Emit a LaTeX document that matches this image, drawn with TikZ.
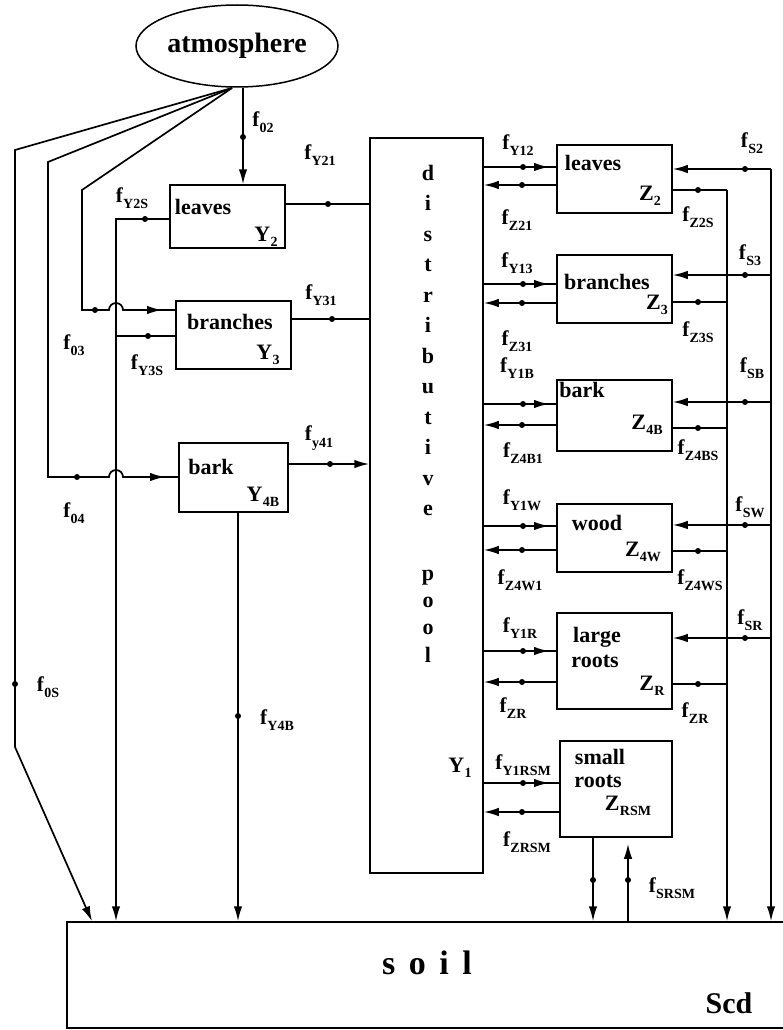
\documentclass[tikz,border=0pt]{standalone}
\usepackage{fontspec}
\setmainfont{Liberation Serif}
\usetikzlibrary{arrows.meta,shapes.geometric,calc}
\newcommand\lf[2]{#1\kern0.3pt\raisebox{-0.3em}{\fontsize{14}{14}\selectfont #2}}
\newcommand\lb[2]{#1\kern0.3pt\raisebox{-0.25em}{\fontsize{14}{14}\selectfont #2}}
\begin{document}
\begin{tikzpicture}[x=1pt,y=-1pt,
  ln/.style={line width=1.7pt},
  arr/.style={line width=1.7pt,-{Latex[length=15pt,width=8.5pt]}},
  box/.style={draw,line width=1.5pt,inner sep=0pt},
  lbl/.style={font=\fontsize{21}{21}\selectfont\bfseries,inner sep=0pt},
  txt/.style={font=\fontsize{22}{22}\selectfont\bfseries,inner sep=0pt},
  pl/.style={font=\fontsize{22}{22}\selectfont\bfseries,inner sep=0pt,anchor=base}]
\path[use as bounding box] (0,0) rectangle (782,1030);
% nodes
\node[ellipse,draw,line width=1.5pt,minimum width=202pt,minimum height=82pt,inner sep=0pt,
      font=\fontsize{28}{28}\selectfont\bfseries] (atm) at (237,46) {atmosphere};
\node[box,minimum width=115pt,minimum height=63pt] (Y2) at (227.5,216.5) {};
\node[box,minimum width=115pt,minimum height=68pt] (Y3) at (233.5,335) {};
\node[box,minimum width=109pt,minimum height=69pt] (Y4) at (233.5,477.5) {};
\node[box,minimum width=113pt,minimum height=735pt] (pool) at (426.5,505.5) {};
\node[box,minimum width=115pt,minimum height=68pt] (Z2) at (614.5,179) {};
\node[box,minimum width=115pt,minimum height=68pt] (Z3) at (614.5,289) {};
\node[box,minimum width=115pt,minimum height=71pt] (Z4B) at (614.5,415.5) {};
\node[box,minimum width=115pt,minimum height=68pt] (Z4W) at (614.5,538) {};
\node[box,minimum width=115pt,minimum height=96pt] (ZR) at (614.5,661) {};
\node[box,minimum width=112pt,minimum height=96pt] (ZRSM) at (616,789) {};
\node[box,minimum width=725pt,minimum height=106pt] (soil) at (429.5,975) {};
% coordinates
\coordinate (atmL) at (232,88);
\coordinate (atmR) at (243,88);
\coordinate (p1) at (15,150); \coordinate (p2) at (15,747); \coordinate (q1) at (92,0);
\coordinate (p3) at (48,162); \coordinate (p4) at (48,477);
\coordinate (p5) at (82,190); \coordinate (p6) at (82,310);
\coordinate (vx) at (116,0); \coordinate (x4b) at (238,0);
\coordinate (xo) at (771,0); \coordinate (xi) at (727,0);
\coordinate (xs1) at (593,0); \coordinate (xs2) at (628,0);
% ---------- left side
\draw[arr] (atmL) -- (p1) -- (p2) -- (soil.north -| q1);
\draw[ln] (atmL) -- (p3) -- (p4) -- (109,477) arc[start angle=180,end angle=360,radius=7] -- (Y4.west |- p4);
\draw[arr] (145,477) -- (165,477);
\draw[ln] (atmL) -- (p5) -- (p6) -- (109,310) arc[start angle=180,end angle=360,radius=7] -- (Y3.west |- p6);
\draw[arr] (142,310) -- (162,310);
\draw[arr] (atmR) -- (Y2.north -| atmR);
\coordinate (y2s) at (0,219); \coordinate (y3s) at (0,336);
\draw[arr] (Y2.west |- y2s) -- (vx |- y2s) -- (vx |- soil.north);
\draw[ln] (Y3.west |- y3s) -- (vx |- y3s);
\draw[arr] (Y4.south -| x4b) -- (soil.north -| x4b);
\coordinate (y21) at (0,204); \coordinate (y31) at (0,319); \coordinate (y41) at (0,464);
\draw[ln] (Y2.east |- y21) -- (pool.west |- y21);
\draw[ln] (Y3.east |- y31) -- (pool.west |- y31);
\draw[arr] (Y4.east |- y41) -- (pool.west |- y41);
% dots left
\foreach \p in {(15,684),(77,477),(95,310),(243,137),(145,219),(148,336),(328,204),(332,319),(330,464),(238,716)}
  \fill \p circle (3pt);
% ---------- right side
\foreach \B/\a/\b/\s/\z in {Z2/167/185/169/190, Z3/284/303/275/302, Z4B/404/425/402/428,
                            Z4W/526/550/525/551, ZR/651/682/638/684, ZRSM/783/812/0/0}{
  \coordinate (ra) at (0,\a); \coordinate (rb) at (0,\b);
  \draw[ln] (pool.east |- ra) -- (\B.west |- ra);
  \draw[arr] (528,\a) -- (549,\a);
  \fill (523,\a) circle (3pt);
  \draw[arr] (\B.west |- rb) -- (pool.east |- rb);
  \fill (522,\b) circle (3pt);
  \ifnum\s>0
    \coordinate (rs) at (0,\s); \coordinate (rz) at (0,\z);
    \draw[arr] (xo |- rs) -- (\B.east |- rs);
    \fill (745,\s) circle (3pt);
    \draw[ln] (\B.east |- rz) -- (xi |- rz);
    \fill (698,\z) circle (3pt);
  \fi
}
\coordinate (s2) at (0,169); \coordinate (z2s) at (0,190);
\draw[arr] (xo |- s2) -- (xo |- soil.north);
\draw[arr] (xi |- z2s) -- (xi |- soil.north);
\draw[arr] (ZRSM.south -| xs1) -- (soil.north -| xs1);
\draw[arr,shorten >=6pt] (soil.north -| xs2) -- (ZRSM.south -| xs2);
\fill (593,880) circle (3pt);
\fill (628,880) circle (3pt);
% ---------- box texts
\node[txt] (tY2) at (203,207) {leaves};
\node[txt] (iY2) at (266,237) {\lb{Y}{2}};
\node[txt] (tY3) at (230,322) {branches};
\node[txt] (iY3) at (268,355) {\lb{Y}{3}};
\node[txt] (tY4) at (211,467) {bark};
\node[txt] (iY4) at (263,497) {\lb{Y}{4B}};
\node[txt] (tZ2) at (593,163) {leaves};
\node[txt] (iZ2) at (650,196) {\lb{Z}{2}};
\node[txt] (tZ3) at (607,282) {branches};
\node[txt] (iZ3) at (657,305) {\lb{Z}{3}};
\node[txt] (tZ4B) at (582,390) {bark};
\node[txt] (iZ4B) at (647,425) {\lb{Z}{4B}};
\node[txt] (tZ4W) at (597,523) {wood};
\node[txt] (iZ4W) at (643,552) {\lb{Z}{4W}};
\node[txt] (tZRa) at (597,637) {large};
\node[txt] (tZRb) at (595,661) {roots};
\node[txt] (iZR) at (652,686) {\lb{Z}{R}};
\node[txt] (tZRSMa) at (600,757) {small};
\node[txt] (tZRSMb) at (598,781) {roots};
\node[txt] (iZRSM) at (628,806) {\lb{Z}{RSM}};
\node[txt] (iY1) at (460,768) {\lb{Y}{1}};
\node[font=\fontsize{34}{34}\selectfont\bfseries,inner sep=0pt] (tsoil) at (427,963) {s\hspace{0.4em}o\hspace{0.4em}i\hspace{0.4em}l};
\node[font=\fontsize{30}{30}\selectfont\bfseries,inner sep=0pt] (tscd) at (729,1003) {Scd};
% pool letters
\foreach \c/\y in {d/173,i/203,s/234,t/264,r/295,i/325,b/356,u/386,t/417,i/447,v/478,e/508,p/573,o/600,o/627,l/655}
  \node[pl] at (428,\y+7) {\c};
% ---------- flux labels
\node[lbl] at (263,122) {\lf{f}{02}};
\node[lbl] at (320,155) {\lf{f}{Y21}};
\node[lbl] at (132,198) {\lf{f}{Y2S}};
\node[lbl] at (321,295) {\lf{f}{Y31}};
\node[lbl] at (74,345) {\lf{f}{03}};
\node[lbl] at (147,365) {\lf{f}{Y3S}};
\node[lbl] at (319,438) {\lf{f}{y41}};
\node[lbl] at (74,513) {\lf{f}{04}};
\node[lbl] at (48,687) {\lf{f}{0S}};
\node[lbl] at (277,720) {\lf{f}{Y4B}};
\node[lbl] at (518,145) {\lf{f}{Y12}};
\node[lbl] at (517,220) {\lf{f}{Z21}};
\node[lbl] at (517,263) {\lf{f}{Y13}};
\node[lbl] at (517,341) {\lf{f}{Z31}};
\node[lbl] at (517,368) {\lf{f}{Y1B}};
\node[lbl] at (523,453) {\lf{f}{Z4B1}};
\node[lbl] at (522,500) {\lf{f}{Y1W}};
\node[lbl] at (520,580) {\lf{f}{Z4W1}};
\node[lbl] at (520,628) {\lf{f}{Y1R}};
\node[lbl] at (513,708) {\lf{f}{ZR}};
\node[lbl] at (523,765) {\lf{f}{Y1RSM}};
\node[lbl] at (527,842) {\lf{f}{ZRSM}};
\node[lbl] at (752,143) {\lf{f}{S2}};
\node[lbl] at (698,217) {\lf{f}{Z2S}};
\node[lbl] at (750,255) {\lf{f}{S3}};
\node[lbl] at (698,332) {\lf{f}{Z3S}};
\node[lbl] at (752,368) {\lf{f}{SB}};
\node[lbl] at (698,450) {\lf{f}{Z4BS}};
\node[lbl] at (750,507) {\lf{f}{SW}};
\node[lbl] at (700,580) {\lf{f}{Z4WS}};
\node[lbl] at (750,620) {\lf{f}{SR}};
\node[lbl] at (695,713) {\lf{f}{ZR}};
\node[lbl] at (672,888) {\lf{f}{SRSM}};
\end{tikzpicture}
\end{document}
